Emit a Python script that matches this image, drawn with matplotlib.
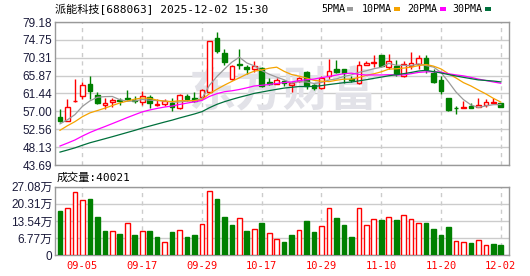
import matplotlib
matplotlib.use('Agg')
import matplotlib.pyplot as plt
import numpy as np
import pandas as pd

# 派能科技[688063] 日K, 2025-09-02 .. 2025-12-02 (60 trading days)
opens  = [55.5, 54.7, 59.5, 60.8, 63.7, 61.1, 58.5, 59.4, 59.8, 60.2,
          59.9, 59.4, 60.6, 58.6, 58.9, 59.0, 57.9, 60.8, 60.3, 60.6,
          61.8, 75.2, 71.6, 65.1, 68.7, 68.0, 67.5, 67.8, 64.3, 63.9,
          64.6, 63.6, 64.5, 66.8, 63.5, 62.9, 65.8, 67.4, 67.4, 65.0,
          64.0, 68.5, 68.9, 70.9, 67.9, 68.2, 65.8, 68.2, 68.8, 70.3,
          66.4, 64.9, 60.2, 57.9, 57.8, 58.3, 58.2, 58.6, 59.2, 59.0]
highs  = [57.7, 60.0, 65.1, 64.3, 65.7, 61.9, 60.2, 60.2, 60.2, 62.4,
          60.8, 62.0, 61.0, 60.0, 60.0, 60.3, 61.3, 61.2, 61.9, 62.5,
          74.5, 76.6, 72.6, 68.4, 72.5, 68.4, 69.4, 68.0, 65.3, 65.3,
          64.9, 64.2, 65.5, 67.0, 63.7, 65.8, 70.0, 69.8, 67.5, 65.9,
          69.6, 69.4, 70.9, 71.1, 71.2, 69.8, 69.6, 71.7, 70.9, 70.9,
          67.5, 65.7, 60.2, 58.4, 59.5, 59.1, 60.4, 60.0, 60.4, 59.1]
lows   = [54.3, 54.5, 59.3, 60.0, 60.0, 58.8, 57.7, 58.0, 58.6, 59.8,
          59.0, 58.5, 57.8, 58.4, 58.4, 57.2, 57.7, 59.6, 59.4, 60.3,
          61.5, 71.6, 68.4, 64.9, 67.4, 66.2, 66.7, 63.1, 63.6, 63.7,
          63.3, 61.7, 64.3, 62.6, 62.2, 62.6, 65.1, 66.6, 64.1, 64.3,
          63.7, 68.4, 68.0, 68.0, 67.5, 65.7, 65.5, 67.5, 67.5, 66.4,
          64.1, 61.2, 57.1, 56.4, 57.8, 57.8, 58.0, 58.2, 59.1, 58.2]
closes = [54.7, 58.2, 59.6, 63.5, 62.0, 59.2, 59.0, 59.8, 59.5, 60.0,
          59.6, 60.8, 59.0, 58.95, 59.5, 58.2, 61.0, 60.0, 59.6, 62.2,
          74.5, 71.9, 69.2, 68.2, 68.4, 67.4, 68.3, 63.3, 63.7, 64.8,
          64.1, 64.0, 65.3, 63.3, 62.9, 65.3, 67.1, 66.7, 66.4, 64.8,
          68.4, 69.1, 69.2, 68.2, 69.6, 66.2, 68.8, 69.0, 70.3, 67.5,
          64.4, 62.1, 57.3, 57.8, 58.0, 57.9, 58.7, 59.4, 59.3, 58.2]
# 成交量, 单位: 万手
vol_wan = [17.4, 18.5, 24.8, 21.7, 22.2, 15.1, 9.5, 9.5, 8.3, 12.6,
           7.9, 9.4, 9.4, 7.1, 5.2, 9.1, 9.8, 7.1, 7.9, 12.2,
           25.2, 22.2, 15.1, 11.9, 14.9, 9.5, 10.2, 12.7, 9.0, 6.6,
           5.2, 7.9, 9.8, 13.5, 9.1, 11.4, 18.5, 14.7, 11.9, 7.1,
           18.5, 11.8, 14.5, 13.9, 15.3, 13.9, 16.1, 14.5, 12.6, 12.7,
           10.3, 7.9, 11.1, 5.8, 5.2, 4.8, 6.2, 4.2, 4.4, 4.0]
# closes before 09-02, only used to start the moving averages
pre_close = [42.8, 43.5, 44.1, 43.6, 44.3, 43.9, 44.6, 43.8, 44.2, 44.0,
             43.6, 44.2, 43.9, 44.5, 44.0, 44.8, 45.1, 44.6, 45.0, 45.3,
             46.8, 49.5, 51.2, 52.6, 53.4, 53.1, 53.2, 53.3, 55.2]

tick_dates = ['09-05', '09-17', '09-29', '10-17', '10-29', '11-10', '11-20', '12-02']
price_ticks = [43.69, 48.13, 52.56, 57.00, 61.44, 65.87, 70.31, 74.75, 79.18]
vol_ticks = [0, 6.77, 13.54, 20.31, 27.08]
ma_names = ['5PMA', '10PMA', '20PMA', '30PMA']
ma_days = [5, 10, 20, 30]
ma_colors = ['#9a9a9a', '#f5a300', '#ff00ff', '#00703c']

RED = '#ff0000'
GREEN = '#008000'
GRID = '#cccccc'
LBL = '#1a1a3a'

plt.rcParams['font.family'] = ['Liberation Sans', 'Noto Sans CJK SC']

days = pd.bdate_range('2025-09-02', '2025-12-02')
days = days[(days < '2025-10-01') | (days > '2025-10-08')]
day_lbl = list(days.strftime('%m-%d'))
n = len(closes)
x = np.arange(n)
tick_pos = [day_lbl.index(d) for d in tick_dates]

W, H = 530, 276
def fx(px):
    return px / W
def fy(py):
    return 1 - py / H

fig = plt.figure(figsize=(W / 100, H / 100), dpi=100)
ax = fig.add_axes([fx(55), fy(165), (509 - 55) / W, (165 - 22) / H])
axv = fig.add_axes([fx(55), fy(255.3), (509 - 55) / W, (255.3 - 186.7) / H])

for a in (ax, axv):
    a.set_xlim(-0.67, 60.1)
    a.set_xticks(tick_pos)
    a.xaxis.grid(True, color=GRID, lw=1, ls=(0, (3, 3)))
    a.yaxis.grid(True, color=GRID, lw=1)
    a.set_axisbelow(True)
    for s in a.spines.values():
        s.set_color('#999999')
        s.set_linewidth(1)
    a.tick_params(length=0, labelsize=8.5, colors=LBL, pad=2)

# watermark
ax.text(fx(283), fy(92), '东方财富', transform=fig.transFigure, fontsize=34,
        color='#e2e2e8', ha='center', va='center', weight='bold',
        family='Noto Sans CJK SC', zorder=1)

# candles
bw = 0.62
for i in x:
    o, c = opens[i], closes[i]
    up = c >= o
    col = RED if up else GREEN
    ax.vlines(i, lows[i], highs[i], color=col, lw=1, zorder=2)
    ax.bar(i, max(abs(c - o), 0.04), bw, bottom=min(o, c),
           facecolor='white' if up else GREEN, edgecolor=col, lw=1, zorder=3)

allc = pd.Series(pre_close + closes)
for d, col in zip(ma_days, ma_colors):
    ma = allc.rolling(d).mean().values[-n:]
    ax.plot(x, ma, color=col, lw=0.9, zorder=4)

ax.set_ylim(price_ticks[0], price_ticks[-1])
ax.set_yticks(price_ticks)
ax.set_yticklabels(['%.2f' % v for v in price_ticks])
ax.tick_params(axis='x', labelbottom=False)

# volume
prev = [pre_close[-1]] + closes[:-1]
for i in x:
    up = closes[i] > prev[i]
    axv.bar(i, vol_wan[i], bw, facecolor='white' if up else GREEN,
            edgecolor=RED if up else GREEN, lw=1, zorder=3)
axv.set_ylim(0, vol_ticks[-1])
axv.set_yticks(vol_ticks)
axv.set_yticklabels(['0'] + ['%.2f万' % v for v in vol_ticks[1:]])
axv.set_xticklabels(tick_dates, color=RED, family='DejaVu Sans Mono', fontsize=7.5)
axv.tick_params(axis='x', pad=4, colors=RED)

# header texts
mono = ['DejaVu Sans Mono', 'Noto Sans CJK SC']
fig.text(fx(55), fy(9), '派能科技[688063] 2025-12-02 15:30', family=mono,
         fontsize=8, va='center', ha='left')
leg_x = [321, 362, 407, 452]
sq_x = [347, 394, 440, 485]
for name, col, tx, sx in zip(ma_names, ma_colors, leg_x, sq_x):
    fig.text(fx(tx), fy(9), name, family='DejaVu Sans Mono', fontsize=7.2,
             va='center', ha='left')
    fig.add_artist(plt.Rectangle((fx(sx), fy(11)), 6 / W, 4 / H,
                                 transform=fig.transFigure, color=col, lw=0))
fig.text(fx(57), fy(177.5), '成交量:40021', family=mono, fontsize=8,
         va='center', ha='left')

fig.savefig('out.png', dpi=100)
